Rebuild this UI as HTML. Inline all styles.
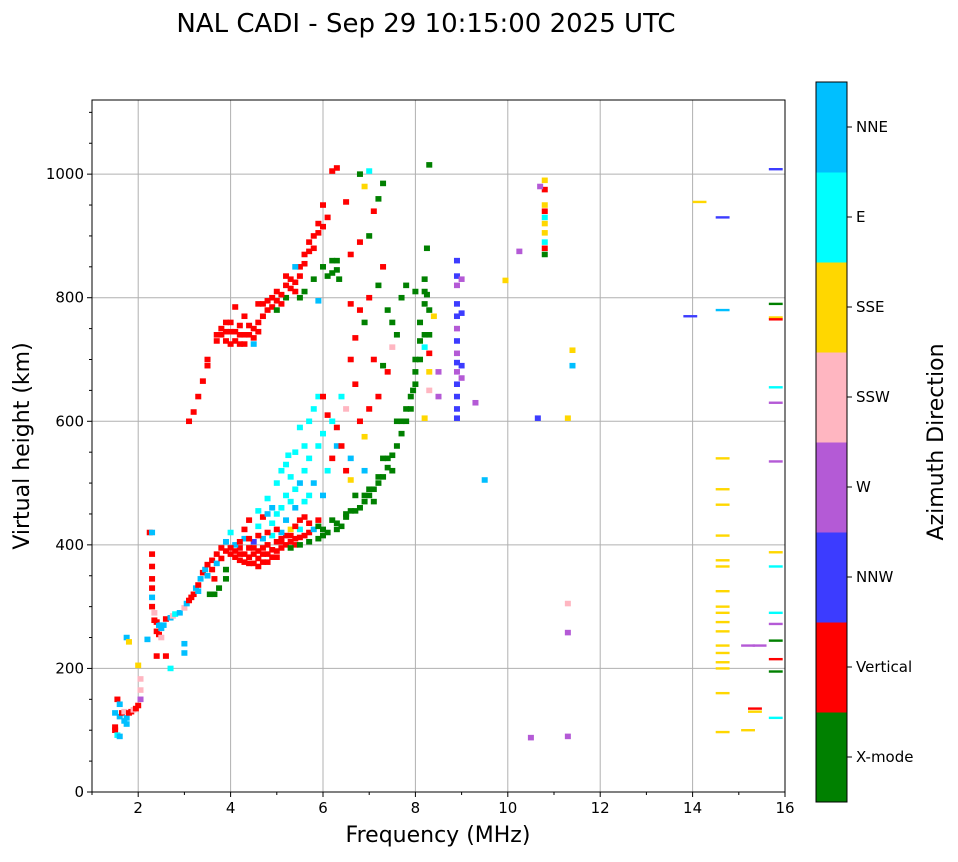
<!DOCTYPE html>
<html><head><meta charset="utf-8"><style>
body{margin:0;background:#fff}
svg text{font-family:"DejaVu Sans","Liberation Sans",sans-serif}
</style></head><body>
<svg id="chart" width="958" height="857" xmlns="http://www.w3.org/2000/svg">
<text x="426" y="32" font-size="26" text-anchor="middle">NAL CADI - Sep 29 10:15:00 2025 UTC</text>
<g id="grid"></g>
<g id="marks"></g>
<rect x="92" y="100" width="693" height="692" fill="none" stroke="#000" stroke-width="1"/>
<g id="axes"></g>
<text x="438" y="842" font-size="22" text-anchor="middle">Frequency (MHz)</text>
<text transform="translate(29,446) rotate(-90)" font-size="22" text-anchor="middle">Virtual height (km)</text>
<g id="cbar"></g>
<text transform="translate(943,442) rotate(-90)" font-size="22" text-anchor="middle">Azimuth Direction</text>
</svg>
<script>
const xTicks=[2,4,6,8,10,12,14,16];
const yTicks=[0,200,400,600,800,1000];
const dirLabels=["X-mode","Vertical","NNW","W","SSW","SSE","E","NNE"];
const dirColors=["#008000","#ff0000","#3c3cff","#b45ad6","#ffb6c1","#ffd700","#00ffff","#00bfff"];
const echoes=[
[1.5,100,1],[1.5,105,1],[1.55,92,6],[1.6,90,7],[1.5,128,7],[1.6,122,7],[1.65,128,1],[1.7,115,7],[1.75,120,7],[1.7,130,4],[1.8,128,1],[1.85,130,1],[1.9,133,4],[1.95,135,1],[2.0,140,1],[2.05,150,3],[2.05,165,4],[1.55,150,1],[1.75,110,7],[1.6,142,7],
[1.75,250,7],[1.8,243,5],[2.0,205,5],[2.2,247,7],[2.05,183,4],
[2.25,420,1],[2.3,420,7],[2.3,385,1],[2.3,365,1],[2.3,345,1],[2.3,330,1],[2.3,315,7],[2.3,300,1],[2.35,290,4],[2.4,275,1],[2.4,260,1],[2.45,255,1],[2.5,265,7],[2.55,270,7],[2.6,280,1],[2.7,282,7],[2.75,285,4],[2.8,288,6],[2.9,290,7],[3.0,298,4],[3.05,305,7],[3.1,310,1],[3.2,320,1],[3.25,330,7],[3.3,335,1],[3.35,345,7],[3.4,355,1],[3.45,360,7],[3.5,368,1],[3.6,375,1],[3.7,385,1],[3.55,320,0],[3.65,320,0],[3.75,330,0],[3.9,345,0],[3.9,360,0],[2.4,220,1],[2.6,220,1],[3.0,225,7],[3.0,240,7],[2.7,200,6],
[2.45,270,7],[2.35,278,1],[2.5,250,4],[3.15,315,1],[3.3,325,7],[3.5,350,7],[3.6,360,1],[3.7,370,7],[3.8,378,1],[3.65,345,1],
[3.8,395,1],[3.9,390,1],[4.0,385,1],[4.1,380,1],[4.2,375,1],[4.3,372,1],[4.4,380,1],[4.5,370,1],[4.6,378,1],[4.7,372,1],[4.8,385,1],[4.9,380,1],[5.0,390,1],[5.1,395,1],[5.2,400,1],[5.3,405,1],[5.4,410,1],[5.5,412,1],[4.2,395,1],[4.4,395,1],[4.6,390,1],[4.8,400,1],[5.0,405,1],[5.2,415,1],[3.9,405,7],[4.1,400,7],[4.3,410,7],[4.5,405,2],[4.7,410,7],[4.9,415,6],[5.1,420,7],[5.3,425,5],[5.5,425,6],[4.0,420,6],[4.3,425,1],[4.6,430,6],[4.9,435,6],[5.2,440,7],[5.5,440,1],[5.7,435,1],[5.9,440,1],[4.4,440,1],[4.7,445,1],
[4.0,395,1],[4.1,390,1],[4.2,385,1],[4.3,385,1],[4.4,370,1],[4.5,385,1],[4.5,395,1],[4.6,365,1],[4.7,385,1],[4.7,395,1],[4.8,372,1],[4.9,392,1],[5.0,380,1],[5.1,405,1],[5.1,410,1],[5.3,415,1],[5.4,400,1],[5.6,415,1],[5.7,420,1],[4.2,405,1],[4.4,410,1],[4.6,415,1],[4.8,420,1],[5.0,425,1],[5.4,430,1],[5.6,445,1],[5.8,425,7],[5.9,430,0],[6.0,425,0],
[5.3,395,0],[5.5,400,0],[5.7,405,0],[5.9,410,0],[6.0,415,0],[6.1,420,0],[6.3,425,0],[6.4,430,0],[6.5,445,0],[6.6,455,0],[6.8,460,0],[6.9,470,0],[7.0,480,0],[7.1,490,0],[7.2,500,0],[7.3,510,0],[7.4,525,0],[7.5,545,0],[7.6,560,0],[7.7,580,0],[7.8,600,0],[7.9,620,0],[7.95,650,0],[8.0,680,0],[8.0,700,0],[8.1,730,0],[8.1,760,0],[8.2,790,0],[8.2,830,0],[7.6,600,0],[7.3,540,0],[6.7,480,0],[6.2,440,0],
[6.3,435,0],[6.5,450,0],[6.7,455,0],[6.9,480,0],[7.0,490,0],[7.1,470,0],[7.2,510,0],[7.4,540,0],[7.5,520,0],[7.7,600,0],[7.9,640,0],[8.0,660,0],[7.8,620,0],[8.1,700,0],[8.2,740,0],[8.2,810,0],
[4.8,475,6],[5.0,500,6],[5.1,520,6],[5.2,530,6],[5.3,510,6],[5.4,550,6],[5.5,590,6],[5.6,560,6],[5.7,600,6],[5.8,620,6],[5.9,640,6],[6.0,580,6],[5.2,480,6],[4.9,460,7],[5.6,470,6],[5.8,500,7],[6.1,520,6],[6.3,560,7],[6.6,540,7],[6.9,520,7],[6.2,600,6],[5.0,450,6],[4.6,455,6],[6.4,640,6],
[5.3,470,6],[5.4,490,6],[5.5,500,7],[5.6,520,6],[5.7,540,6],[5.1,460,6],[5.4,460,7],[5.7,480,6],[5.9,560,6],[6.0,480,7],[4.8,450,7],[5.25,545,6],
[6.0,640,1],[6.1,610,1],[6.3,590,1],[6.4,560,1],[6.5,520,1],[6.2,540,1],[6.8,600,1],[7.0,620,1],[6.7,660,1],[7.2,640,1],[6.6,700,1],[6.5,620,4],[7.4,680,1],[6.9,575,5],[6.6,505,5],
[3.1,600,1],[3.2,615,1],[3.3,640,1],[3.4,665,1],[3.5,690,1],[3.5,700,1],[3.7,740,1],[3.8,750,1],[3.9,760,1],[4.0,745,1],[4.1,730,1],[4.2,725,1],[4.3,740,1],[4.4,755,1],[4.5,735,1],[4.6,760,1],[4.7,790,1],[4.8,780,1],[4.9,800,1],[5.0,810,1],[5.1,790,1],[5.2,820,1],[5.3,830,1],[5.4,810,1],[5.5,850,1],[5.6,870,1],[5.7,890,1],[5.8,900,1],[5.9,920,1],[6.0,950,1],[6.1,930,1],[6.2,1005,1],[6.3,1010,1],[4.1,785,1],[4.3,770,1],[4.0,725,1],[5.2,800,0],[5.6,810,0],[5.8,830,0],[6.0,850,0],[6.2,860,0],[6.3,845,0],[6.1,835,0],[5.9,795,7],[4.5,725,7],[5.4,850,7],
[3.7,730,1],[3.8,740,1],[3.9,730,1],[3.9,745,1],[4.0,760,1],[4.1,745,1],[4.2,740,1],[4.2,755,1],[4.3,725,1],[4.4,740,1],[4.5,750,1],[4.6,745,1],[4.7,770,1],[4.8,795,1],[4.9,785,1],[5.0,795,1],[5.1,805,1],[5.2,835,1],[5.3,815,1],[5.4,825,1],[5.5,835,1],[5.6,855,1],[5.7,875,1],[5.8,880,1],[5.9,905,1],[6.0,915,1],[4.6,790,1],[5.0,780,0],[5.5,800,0],[6.2,840,0],[6.3,860,0],[6.35,830,0],
[6.6,790,1],[6.8,780,1],[6.9,760,0],[7.0,800,1],[7.2,820,0],[7.3,850,1],[7.4,780,0],[7.5,760,0],[7.6,740,0],[7.7,800,0],[7.8,820,0],[8.0,810,0],[6.6,870,1],[6.8,890,1],[7.0,900,0],[7.1,940,1],[7.2,960,0],[7.0,1005,6],[6.9,980,5],[7.3,985,0],[6.5,955,1],[6.8,1000,0],[6.7,735,1],[7.1,700,1],[7.3,690,0],[7.5,720,4],[8.3,1015,0],[8.25,880,0],[8.25,805,0],[8.3,780,0],[8.3,740,0],[8.3,710,1],[8.3,680,5],[8.3,650,4],[8.2,605,5],[8.5,640,3],[8.5,680,3],[8.4,770,5],[8.2,720,6],
[8.9,860,2],[8.9,835,2],[8.9,820,3],[8.9,790,2],[8.9,770,2],[8.9,750,3],[8.9,730,2],[8.9,710,3],[8.9,695,2],[8.9,680,3],[8.9,660,2],[8.9,640,2],[8.9,620,2],[8.9,605,2],[9.0,690,2],[9.0,670,3],[9.0,775,2],[9.0,830,3],[9.3,630,3],[9.5,505,7],[9.95,828,5],[10.25,875,3],[10.5,88,3],[10.65,605,2],[11.3,90,3],[11.3,258,3],[11.3,305,4],[11.3,605,5],[11.4,715,5],[11.4,690,7],
[10.8,990,5],[10.8,975,1],[10.7,980,3],[10.8,950,5],[10.8,940,1],[10.8,930,6],[10.8,920,5],[10.8,890,6],[10.8,880,1],[10.8,870,0],[10.8,905,5]
];
const dashes=[
[14.15,955,5],[14.65,930,2],[13.95,770,2],[14.65,780,7],
[14.65,540,5],[14.65,490,5],[14.65,465,5],[14.65,415,5],[14.65,375,5],[14.65,365,5],[14.65,325,5],[14.65,300,5],[14.65,290,5],[14.65,275,5],[14.65,260,5],[14.65,237,5],[14.65,225,5],[14.65,210,5],[14.65,200,5],[14.65,160,5],[14.65,97,5],
[15.35,135,1],[15.35,130,5],[15.2,100,5],[15.2,237,3],[15.45,237,3],
[15.8,1008,2],[15.8,790,0],[15.8,768,5],[15.8,765,1],[15.8,655,6],[15.8,630,3],[15.8,535,3],[15.8,388,5],[15.8,365,6],[15.8,290,6],[15.8,272,3],[15.8,245,0],[15.8,215,1],[15.8,195,0],[15.8,120,6]
];
const NS="http://www.w3.org/2000/svg";
const X0=92,X1=785,Y0=792,Y1=100,FMIN=1,FMAX=16,HMAX=1120;
function xs(f){return X0+(f-FMIN)/(FMAX-FMIN)*(X1-X0);}
function ys(h){return Y0-h/HMAX*(Y0-Y1);}
function mk(tag,a,parent){const e=document.createElementNS(NS,tag);for(const k in a)e.setAttribute(k,a[k]);parent.appendChild(e);return e;}
const grid=document.getElementById('grid'),axes=document.getElementById('axes'),marks=document.getElementById('marks'),cbar=document.getElementById('cbar');
xTicks.forEach(t=>{const x=xs(t);
 const g=mk('line',{x1:x,x2:x,y1:Y1,y2:Y0,stroke:'#b0b0b0','stroke-width':1},grid);
 
 mk('line',{x1:x,x2:x,y1:Y0,y2:Y0+5,stroke:'#000'},axes);
 const tx=mk('text',{x:x,y:Y0+21,'font-size':15,'text-anchor':'middle'},axes);tx.textContent=t;
 });
for(let f=1;f<=15;f+=2){const x=xs(f);mk('line',{x1:x,x2:x,y1:Y0,y2:Y0+3,stroke:'#000'},axes);}
yTicks.forEach(t=>{const y=ys(t);
 const g=mk('line',{x1:X0,x2:X1,y1:y,y2:y,stroke:'#b0b0b0','stroke-width':1},grid);
 
 mk('line',{x1:X0-5,x2:X0,y1:y,y2:y,stroke:'#000'},axes);
 const tx=mk('text',{x:X0-8,y:y+5,'font-size':15,'text-anchor':'end'},axes);tx.textContent=t;
 });
for(let h=50;h<=1100;h+=50){if(h%200===0)continue;const y=ys(h);mk('line',{x1:X0-3,x2:X0,y1:y,y2:y,stroke:'#000'},axes);}
const bw=xs(1.13)-xs(1),bh=ys(0)-ys(9);
echoes.forEach(d=>{const r=mk('rect',{x:xs(d[0])-bw/2,y:ys(d[1])-bh/2,width:bw,height:bh,fill:dirColors[d[2]]},marks);
 });
const dw=xs(1.3)-xs(1);
dashes.forEach(d=>{const r=mk('rect',{x:xs(d[0])-dw/2,y:ys(d[1])-1.2,width:dw,height:2.4,fill:dirColors[d[2]]},marks);
 });
const CX=816,CW=31,CT=82,CB=802,seg=(CB-CT)/dirLabels.length;
dirLabels.forEach((l,i)=>{const y=CB-(i+1)*seg;
 const r=mk('rect',{x:CX,y:y,width:CW,height:seg+0.5,fill:dirColors[i]},cbar);
 
 mk('line',{x1:CX+CW,x2:CX+CW+5,y1:y+seg/2,y2:y+seg/2,stroke:'#000'},cbar);
 const t=mk('text',{x:CX+CW+9,y:y+seg/2+5,'font-size':15},cbar);t.textContent=l;
 });
mk('rect',{x:CX,y:CT,width:CW,height:CB-CT,fill:'none',stroke:'#000'},cbar);
</script>
</body></html>
